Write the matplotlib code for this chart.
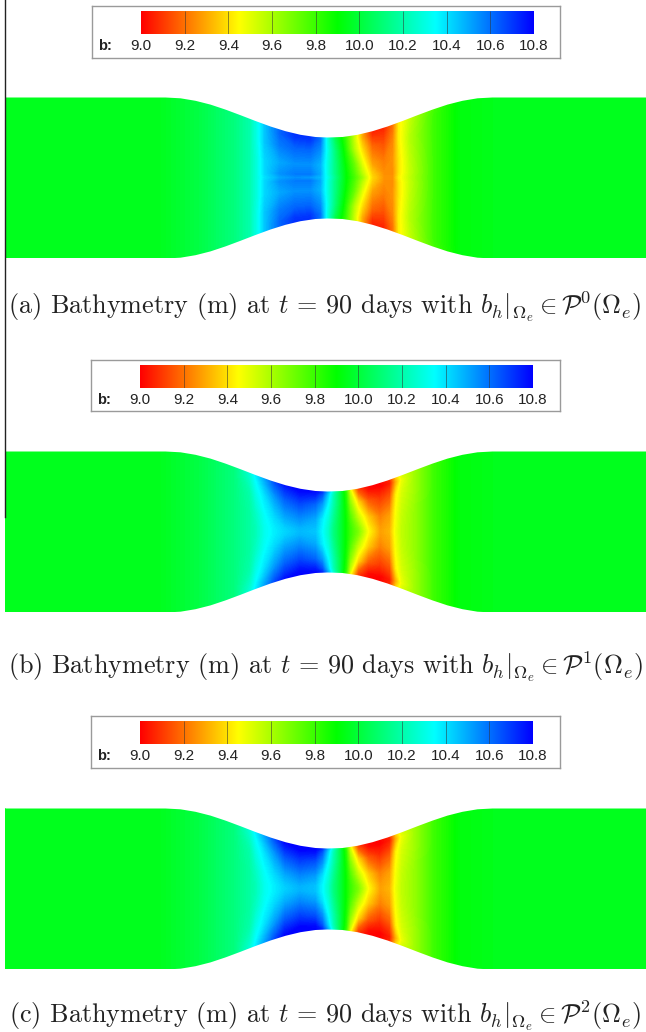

import numpy as np
import matplotlib

matplotlib.use("Agg")
import matplotlib.pyplot as plt
from matplotlib.colors import LinearSegmentedColormap

W, H = 646, 1032

# channel half width along x
wall_x = [5, 165, 180, 195, 210, 225, 240, 255, 270, 285, 300, 315, 327, 342, 357, 372, 387, 402, 417, 432, 447, 462, 477, 492, 646]
wall_hw = [80.5, 80.5, 79.7, 77.2, 73.4, 68.4, 62.8, 57.0, 51.5, 46.8, 43.2, 41.0, 40.5, 41.0, 43.2, 46.8, 51.5, 57.0, 62.8, 68.4, 73.4, 77.2, 79.7, 80.5, 80.5]

# level colours of the legend bar
levels = [9.0, 9.2, 9.4, 9.6, 9.8, 10.0, 10.2, 10.4, 10.6, 10.8]
level_labels = ["9.0", "9.2", "9.4", "9.6", "9.8", "10.0", "10.2", "10.4", "10.6", "10.8"]
rainbow = ["#ff0000", "#ffff00", "#00ff00", "#00ffff", "#0000ff"]

eta = [0.0, 0.08, 0.3, 0.65, 0.88, 1.0]

# panel (a): P0
x_a = [5, 160, 200, 235, 250, 258, 265, 280, 295, 310, 320, 327, 335, 345, 354, 362, 372, 384, 393, 399, 410, 435, 460, 500, 646]
b_a = [
    [9.95, 9.95, 10.02, 10.12, 10.2, 10.3, 10.4, 10.5, 10.54, 10.52, 10.47, 10.32, 10.14, 9.92, 9.78, 9.62, 9.38, 9.26, 9.26, 9.42, 9.56, 9.8, 9.92, 9.95, 9.95],
    [9.95, 9.95, 10.02, 10.12, 10.2, 10.3, 10.42, 10.54, 10.58, 10.58, 10.5, 10.3, 10.12, 9.92, 9.76, 9.58, 9.36, 9.25, 9.25, 9.4, 9.55, 9.8, 9.92, 9.95, 9.95],
    [9.95, 9.95, 10.02, 10.12, 10.2, 10.3, 10.42, 10.5, 10.54, 10.54, 10.48, 10.3, 10.12, 9.9, 9.72, 9.5, 9.28, 9.22, 9.26, 9.4, 9.56, 9.8, 9.92, 9.95, 9.95],
    [9.95, 9.95, 10.02, 10.12, 10.2, 10.32, 10.45, 10.58, 10.62, 10.62, 10.55, 10.32, 10.1, 9.85, 9.58, 9.38, 9.18, 9.14, 9.24, 9.42, 9.58, 9.8, 9.92, 9.95, 9.95],
    [9.95, 9.95, 10.02, 10.12, 10.2, 10.32, 10.45, 10.62, 10.7, 10.7, 10.6, 10.3, 10.05, 9.82, 9.55, 9.3, 9.08, 9.08, 9.2, 9.42, 9.56, 9.8, 9.92, 9.95, 9.95],
    [9.95, 9.95, 10.02, 10.12, 10.2, 10.32, 10.45, 10.62, 10.72, 10.72, 10.6, 10.3, 10.0, 9.8, 9.55, 9.3, 9.05, 9.05, 9.2, 9.42, 9.55, 9.78, 9.92, 9.95, 9.95],
]

# panels (b) and (c): P1, P2
x_bc = [5, 160, 200, 235, 250, 256, 265, 275, 285, 300, 315, 322, 328, 333, 340, 346, 350, 358, 368, 380, 390, 396, 402, 415, 435, 460, 500, 646]
b_b = [
    [9.95, 9.95, 10.02, 10.12, 10.18, 10.22, 10.32, 10.38, 10.42, 10.47, 10.45, 10.35, 10.25, 10.12, 10.0, 9.88, 9.8, 9.68, 9.45, 9.28, 9.32, 9.48, 9.56, 9.64, 9.8, 9.92, 9.95, 9.95],
    [9.95, 9.95, 10.02, 10.12, 10.18, 10.22, 10.32, 10.38, 10.43, 10.48, 10.46, 10.36, 10.25, 10.12, 10.0, 9.88, 9.8, 9.66, 9.43, 9.27, 9.31, 9.47, 9.56, 9.64, 9.8, 9.92, 9.95, 9.95],
    [9.95, 9.95, 10.02, 10.12, 10.18, 10.24, 10.34, 10.42, 10.5, 10.55, 10.5, 10.38, 10.28, 10.15, 10.0, 9.88, 9.76, 9.56, 9.36, 9.22, 9.28, 9.46, 9.55, 9.64, 9.8, 9.92, 9.95, 9.95],
    [9.95, 9.95, 10.02, 10.12, 10.2, 10.3, 10.4, 10.52, 10.62, 10.68, 10.62, 10.52, 10.35, 10.2, 10.02, 9.85, 9.65, 9.38, 9.16, 9.1, 9.15, 9.42, 9.52, 9.62, 9.8, 9.92, 9.95, 9.95],
    [9.95, 9.95, 10.02, 10.12, 10.25, 10.35, 10.48, 10.62, 10.72, 10.78, 10.75, 10.65, 10.42, 10.22, 10.02, 9.82, 9.55, 9.16, 9.02, 9.0, 9.05, 9.3, 9.48, 9.62, 9.8, 9.92, 9.95, 9.95],
    [9.95, 9.95, 10.02, 10.12, 10.28, 10.38, 10.52, 10.68, 10.78, 10.8, 10.8, 10.75, 10.5, 10.28, 10.02, 9.78, 9.45, 9.08, 9.0, 9.0, 9.08, 9.38, 9.52, 9.62, 9.8, 9.92, 9.95, 9.95],
]
b_c = [
    [9.95, 9.95, 10.02, 10.12, 10.18, 10.22, 10.32, 10.38, 10.43, 10.48, 10.46, 10.36, 10.25, 10.12, 10.0, 9.88, 9.8, 9.68, 9.45, 9.28, 9.32, 9.48, 9.56, 9.64, 9.8, 9.92, 9.95, 9.95],
    [9.95, 9.95, 10.02, 10.12, 10.18, 10.22, 10.32, 10.38, 10.44, 10.49, 10.46, 10.36, 10.25, 10.12, 10.0, 9.88, 9.8, 9.66, 9.43, 9.27, 9.31, 9.47, 9.56, 9.64, 9.8, 9.92, 9.95, 9.95],
    [9.95, 9.95, 10.02, 10.12, 10.18, 10.24, 10.34, 10.42, 10.5, 10.56, 10.52, 10.4, 10.28, 10.15, 10.0, 9.88, 9.76, 9.56, 9.36, 9.22, 9.28, 9.46, 9.55, 9.64, 9.8, 9.92, 9.95, 9.95],
    [9.95, 9.95, 10.02, 10.12, 10.2, 10.3, 10.4, 10.52, 10.64, 10.7, 10.66, 10.55, 10.35, 10.2, 10.02, 9.85, 9.65, 9.38, 9.16, 9.08, 9.15, 9.42, 9.52, 9.62, 9.8, 9.92, 9.95, 9.95],
    [9.95, 9.95, 10.02, 10.12, 10.25, 10.35, 10.48, 10.62, 10.75, 10.8, 10.78, 10.65, 10.42, 10.22, 10.02, 9.82, 9.55, 9.16, 9.02, 9.0, 9.05, 9.3, 9.48, 9.62, 9.8, 9.92, 9.95, 9.95],
    [9.95, 9.95, 10.02, 10.12, 10.28, 10.38, 10.52, 10.68, 10.8, 10.8, 10.8, 10.75, 10.5, 10.28, 10.02, 9.78, 9.45, 9.08, 9.0, 9.0, 9.08, 9.38, 9.52, 9.62, 9.8, 9.92, 9.95, 9.95],
]

captions = [
    r"(a) Bathymetry (m) at $t$ = 90 days with $b_h|_{\Omega_e} \in \mathcal{P}^0(\Omega_e)$",
    r"(b) Bathymetry (m) at $t$ = 90 days with $b_h|_{\Omega_e} \in \mathcal{P}^1(\Omega_e)$",
    r"(c) Bathymetry (m) at $t$ = 90 days with $b_h|_{\Omega_e} \in \mathcal{P}^2(\Omega_e)$",
]

plt.rcParams["mathtext.fontset"] = "cm"
plt.rcParams["axes.unicode_minus"] = False

cmap = LinearSegmentedColormap.from_list("tecplot", rainbow, N=512)


def px_axes(fig, left, top, right, bottom):
    """Axes placed by picture pixels (y down)."""
    return fig.add_axes([left / W, 1 - bottom / H, (right - left) / W, (bottom - top) / H])


def draw_legend(fig, box_left, box_top, box_right, box_bottom, bar_top, bar_bottom):
    frame = px_axes(fig, box_left, box_top, box_right, box_bottom)
    frame.set_xticks([])
    frame.set_yticks([])
    for s in frame.spines.values():
        s.set_color("#9a9a9a")
        s.set_linewidth(1.0)
    frame.text(0.012, 0.225, "b:", transform=frame.transAxes, fontsize=10.5, fontweight="bold",
               family="Liberation Sans", va="center", ha="left", color="#222222")

    bar = px_axes(fig, box_left + 49, bar_top, box_left + 442, bar_bottom)
    grad = np.array([np.linspace(levels[0], levels[-1], 512)])
    bar.imshow(grad, extent=[levels[0], levels[-1], 0, 1], aspect="auto", cmap=cmap,
               vmin=levels[0], vmax=levels[-1])
    bar.vlines(levels[1:-1], 0, 1, color="#333333", alpha=0.55, lw=0.7)
    bar.set_yticks([])
    bar.set_xticks(levels)
    bar.set_xticklabels(level_labels, fontsize=11, family="Liberation Sans", color="#222222")
    bar.tick_params(axis="x", length=0, pad=3.5)
    for s in bar.spines.values():
        s.set_visible(False)


def draw_channel(fig, top, bottom, left, x, table):
    ax = px_axes(fig, left, top, W, bottom)
    eta_arr = np.array(eta)
    signed = np.concatenate([-eta_arr[::-1], eta_arr[1:]])
    vals = np.array(table)
    field = np.vstack([vals[::-1], vals[1:]])
    # a little wider than the wall, the white mask below cuts the final outline
    hw = np.interp(x, wall_x, wall_hw) * 1.03
    X = np.tile(x, (signed.size, 1))
    Y = signed[:, None] * hw[None, :]
    ax.contourf(X, Y, field, levels=np.linspace(levels[0], levels[-1], 220), cmap=cmap,
                extend="both")
    ax.fill_between(wall_x, wall_hw, 90, color="white", lw=0, zorder=3)
    ax.fill_between(wall_x, -np.array(wall_hw), -90, color="white", lw=0, zorder=3)
    ax.set_xlim(left, W)
    ax.set_ylim(-80.5, 80.5)
    ax.axis("off")


fig = plt.figure(figsize=(W / 100, H / 100), dpi=100)

draw_legend(fig, 92, 6, 560, 58, 11, 34)
draw_legend(fig, 91, 360, 560, 411, 365, 388)
draw_legend(fig, 91, 716, 560, 768, 721, 744)

draw_channel(fig, 97, 258, 5, x_a, b_a)
draw_channel(fig, 451, 612, 4, x_bc, b_b)
draw_channel(fig, 808, 969, 4, x_bc, b_c)

for caption, y in zip(captions, [307, 667, 1016]):
    fig.text(325 / W, 1 - y / H, caption, fontsize=18.8, family="cmr10", ha="center", va="center",
             color="#222222")

# stray rule along the left edge of the source scan
fig.add_artist(plt.Line2D([4.5 / W, 4.5 / W], [1, 1 - 517 / H], color="#222222", lw=1.0))

fig.savefig("out.png", dpi=100)
